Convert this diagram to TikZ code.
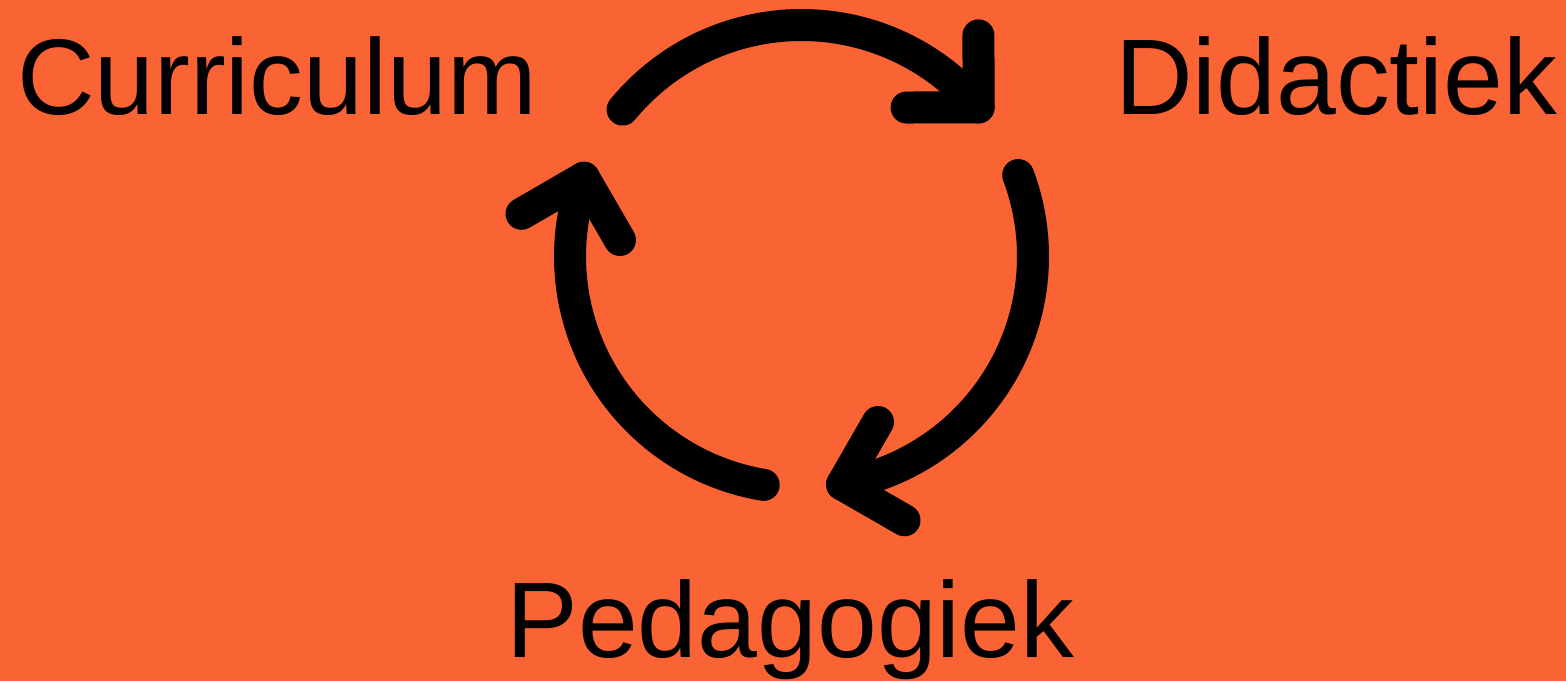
\documentclass[tikz,border=0pt]{standalone}
\usepackage{fontspec}
\setmainfont{Liberation Sans}
\definecolor{bgorange}{RGB}{250,99,52}
\begin{document}
\begin{tikzpicture}[x=1pt,y=1pt,
  cycleline/.style={line width=32pt,line cap=round,line join=round,black},
  label/.style={anchor=base west,inner sep=0pt,outer sep=0pt,font=\fontsize{107.5}{120}\selectfont}]
\fill[bgorange] (0,0) rectangle (1566,681);
\useasboundingbox (0,0) rectangle (1566,681);
\coordinate (c) at (801.5,424.5);
\def\R{231.5}
\foreach \t/\n in {140.6/a,20.6/b,-99.4/d}{
  \draw[cycleline] (c) ++(\t:\R) arc[start angle=\t, end angle=\t-100.5, radius=\R] coordinate (e\n);
  \pgfmathsetmacro{\la}{\t-100.5+90+5+45}
  \pgfmathsetmacro{\lb}{\t-100.5+90+5-45}
  \draw[cycleline] (e\n) ++(\la:72) -- (e\n) -- ++(\lb:72);
}
\node[label] (cur) at (17,566) {Curriculum};
\node[label] (did) at (1115,566) {Didactiek};
\node[label] (ped) at (506.5,24) {Pedagogiek};
\end{tikzpicture}
\end{document}
